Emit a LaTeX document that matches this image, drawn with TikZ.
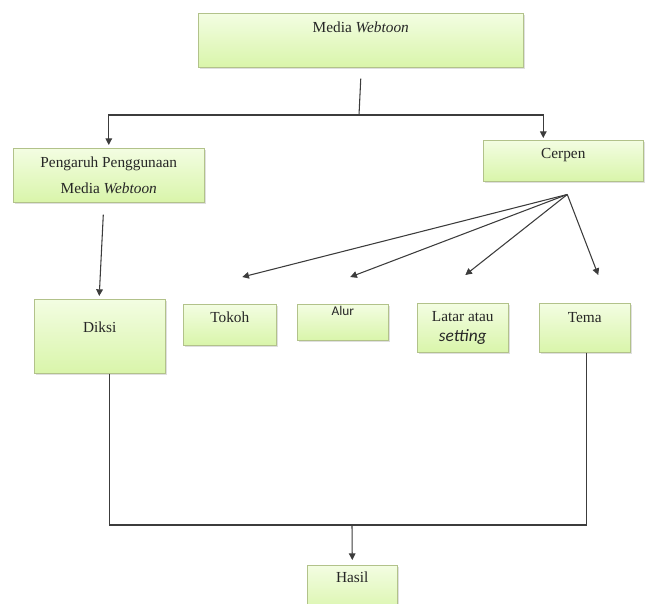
\documentclass[tikz,border=0pt]{standalone}
\usepackage{fontspec}
\setmainfont{Liberation Serif}
\newfontfamily\calfont{Carlito}
\usepackage{tikz}
\usetikzlibrary{arrows.meta, positioning, calc, shadows}
\usepackage{xcolor}
\definecolor{bdr}{HTML}{B2C28A}
\definecolor{fhi}{HTML}{F3FDE2}
\definecolor{flo}{HTML}{D9F5AA}
\definecolor{lnc}{HTML}{3C3C3C}
\tikzset{
  bx/.style   = {rectangle, draw=bdr, top color=fhi, bottom color=flo,
                 drop shadow={opacity=0.25, shadow xshift=1.2pt, shadow yshift=-1.2pt},
                 inner xsep=2pt, inner ysep=0pt, anchor=north west, align=center,
                 font=\fontsize{11.5}{14}\selectfont, text=black!85},
  ln/.style   = {line width=0.8pt, color=lnc},
  arr/.style  = {-{Triangle[length=5pt,width=5pt]}, line width=0.8pt, color=lnc},
}

\begin{document}
\begin{tikzpicture}[x=0.75pt, y=-0.75pt]
  \useasboundingbox (0,0) rectangle (645,603);

  \node[bx, minimum width=243.75pt, text height=14.25pt, text depth=26.25pt]
        (media) at (198,13) {Media \textit{Webtoon}};
  \node[bx, minimum width=143.25pt, minimum height=40.5pt,
        font=\fontsize{11.5}{19}\selectfont]
        (pengaruh) at (13,148) {Pengaruh Penggunaan\\Media \textit{Webtoon}};
  \node[bx, minimum width=120pt, text height=13.7pt, text depth=17pt]
        (cerpen) at (483,140) {Cerpen};

  \node[bx, minimum width=98.25pt, text height=24.75pt, text depth=30.75pt]
        (diksi) at (34,299) {Diksi};
  \node[bx, minimum width=69.75pt, text height=13.5pt, text depth=17.25pt]
        (tokoh) at (183,304) {Tokoh};
  \node[bx, minimum width=68.25pt, text height=8.25pt, text depth=18.75pt,
        font=\calfont\fontsize{10}{12}\selectfont]
        (alur) at (297,304) {Alur};
  \node[bx, minimum width=68.25pt, minimum height=36.75pt,
        font=\fontsize{11.5}{15}\selectfont]
        (latar) at (417,303) {Latar atau\\{\calfont\itshape\fontsize{13}{15}\selectfont setting}};
  \node[bx, minimum width=68.25pt, text height=14.25pt, text depth=22.5pt]
        (tema) at (539,303) {Tema};
  \node[bx, minimum width=67.5pt, text height=12.75pt, text depth=24.75pt]
        (hasil) at (307,565) {Hasil};

  \coordinate (split) at (359,115);
  \coordinate (join)  at (352,525);
  \coordinate (fan)   at ([shift={(3pt,-9.75pt)}]cerpen.south);

  % top split
  \draw[ln]  ([yshift=-8.25pt]media.south) -- (split);
  \draw[arr] (split) -| ([yshift=2.25pt]pengaruh.north);
  \draw[arr] (split) -| ([xshift=-15pt,yshift=1.5pt]cerpen.north);

  \draw[arr] ([shift={(-4.1pt,-9pt)}]pengaruh.south) -- ([shift={(-0.4pt,2.25pt)}]diksi.north);

  % unsur cerpen
  \draw[arr] (fan) -- ([shift={(9.4pt,20.25pt)}]tokoh.north);
  \draw[arr] (fan) -- ([shift={(5.6pt,20.25pt)}]alur.north);
  \draw[arr] (fan) -- ([shift={(1.9pt,21pt)}]latar.north);
  \draw[arr] (fan) -- ([shift={(10.1pt,21pt)}]tema.north);

  % bottom join
  \draw[ln]  ([xshift=7pt]diksi.south) |- (join);
  \draw[ln]  ([xshift=1.5pt]tema.south) |- (join);
  \draw[arr] (join) -- ([yshift=3.75pt]hasil.north);

\end{tikzpicture}
\end{document}
